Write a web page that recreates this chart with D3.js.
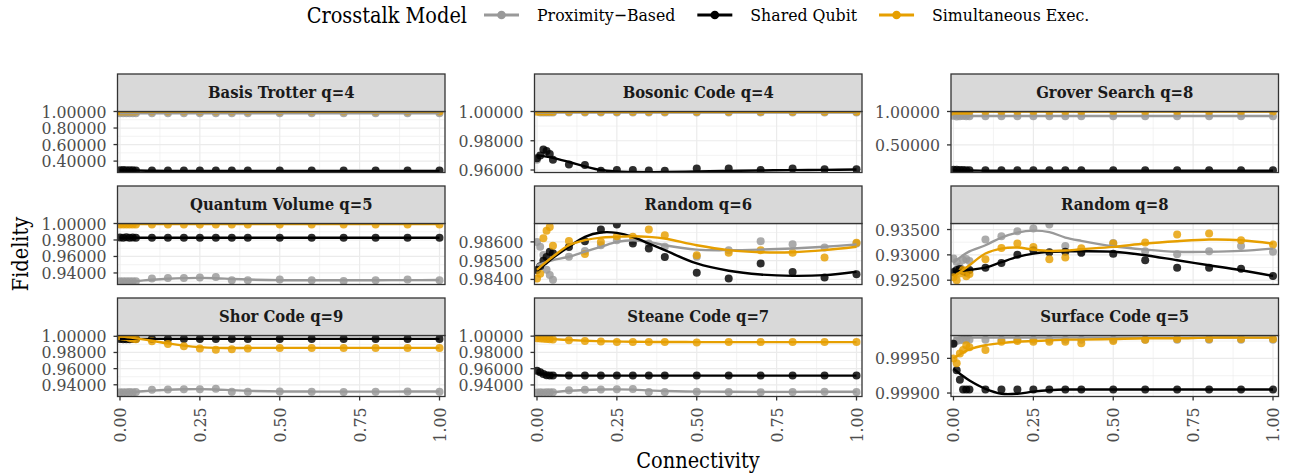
<!DOCTYPE html>
<html>
<head>
<meta charset="utf-8">
<script src="https://cdn.jsdelivr.net/npm/d3@7"></script>
<style>
  html, body { margin: 0; padding: 0; background: #ffffff; }
  svg { display: block; font-family: "DejaVu Serif Condensed", "DejaVu Serif", serif; font-stretch: condensed; }
</style>
</head>
<body>
<svg id="chart" width="1300" height="475"></svg>
<script>
// ---- Crosstalk models ----
const models = ["Proximity\u2212Based", "Shared Qubit", "Simultaneous Exec."];
const modelColors = ["#999999", "#000000", "#E69F00"];

// ---- Connectivity values of the measured runs, and of the fitted curves ----
const connectivity = [0, 0.01, 0.02, 0.03, 0.04, 0.05, 0.1, 0.15, 0.2, 0.25, 0.3, 0.35, 0.4, 0.5, 0.6, 0.7, 0.8, 0.9, 1.0];
const fitGrid = [0, 0.025, 0.05, 0.1, 0.15, 0.2, 0.25, 0.3, 0.35, 0.4, 0.5, 0.6, 0.7, 0.8, 0.9, 1.0];

const xTicks = [0, 0.25, 0.5, 0.75, 1.0];

// ---- Benchmarks ----
const panelTitles = [
  "Basis Trotter q=4", "Bosonic Code q=4", "Grover Search q=8",
  "Quantum Volume q=5", "Random q=6", "Random q=8",
  "Shor Code q=9", "Steane Code q=7", "Surface Code q=5"
];

const panelYLimits = [
  [0.262, 1.0], [0.9583, 1.0], [0.087, 1.0],
  [0.926, 1.0], [0.98373, 0.98698], [0.92415, 0.93619],
  [0.9255, 1.001], [0.9258, 1.0008], [0.99895, 0.99983]
];

const panelYTicks = [
  [0.4, 0.6, 0.8, 1.0], [0.96, 0.98, 1.0], [0.5, 1.0],
  [0.94, 0.96, 0.98, 1.0], [0.984, 0.985, 0.986], [0.925, 0.930, 0.935],
  [0.94, 0.96, 0.98, 1.0], [0.94, 0.96, 0.98, 1.0], [0.999, 0.9995]
];

// ---- Fidelity: Basis Trotter q=4 ----
const btProx  = [0.978, 0.978, 0.978, 0.978, 0.978, 0.978, 0.978, 0.978, 0.978, 0.978, 0.978, 0.978, 0.978, 0.978, 0.978, 0.978, 0.978, 0.978, 0.978];
const btShared = [0.290, 0.291, 0.289, 0.290, 0.288, 0.287, 0.285, 0.285, 0.285, 0.285, 0.285, 0.285, 0.285, 0.285, 0.285, 0.285, 0.285, 0.285, 0.285];
const btSimul = [0.999, 0.999, 0.999, 0.999, 0.999, 0.999, 0.999, 0.999, 0.999, 0.999, 0.999, 0.999, 0.999, 0.999, 0.999, 0.999, 0.999, 0.999, 0.999];
const btProxFit  = [0.978, 0.978, 0.978, 0.978, 0.978, 0.978, 0.978, 0.978, 0.978, 0.978, 0.978, 0.978, 0.978, 0.978, 0.978, 0.978];
const btSharedFit = [0.288, 0.287, 0.286, 0.283, 0.281, 0.280, 0.280, 0.280, 0.280, 0.280, 0.280, 0.280, 0.280, 0.280, 0.280, 0.280];
const btSimulFit = [0.999, 0.999, 0.999, 0.999, 0.999, 0.999, 0.999, 0.999, 0.999, 0.999, 0.999, 0.999, 0.999, 0.999, 0.999, 0.999];

// ---- Fidelity: Bosonic Code q=4 ----
const bcProx  = [0.9670, 0.9993, 0.9993, 0.9993, 0.9993, 0.9993, 0.9993, 0.9993, 0.9993, 0.9993, 0.9993, 0.9993, 0.9993, 0.9993, 0.9993, 0.9993, 0.9993, 0.9993, 0.9993];
const bcShared = [0.968, 0.970, 0.974, 0.973, 0.971, 0.967, 0.9637, 0.9635, 0.9595, 0.9600, 0.9600, 0.9597, 0.9595, 0.9610, 0.9610, 0.9600, 0.9610, 0.9605, 0.9605];
const bcSimul = [0.9998, 0.9998, 0.9998, 0.9998, 0.9998, 0.9998, 0.9998, 0.9998, 0.9998, 0.9998, 0.9998, 0.9998, 0.9998, 0.9998, 0.9998, 0.9998, 0.9998, 0.9998, 0.9998];
const bcProxFit  = [0.9993, 0.9993, 0.9993, 0.9993, 0.9993, 0.9993, 0.9993, 0.9993, 0.9993, 0.9993, 0.9993, 0.9993, 0.9993, 0.9993, 0.9993, 0.9993];
const bcSharedFit = [0.9700, 0.9693, 0.9683, 0.9655, 0.9625, 0.9600, 0.9590, 0.9586, 0.9585, 0.9586, 0.9590, 0.9594, 0.9597, 0.9599, 0.9601, 0.9603];
const bcSimulFit = [0.9998, 0.9998, 0.9998, 0.9998, 0.9998, 0.9998, 0.9998, 0.9998, 0.9998, 0.9998, 0.9998, 0.9998, 0.9998, 0.9998, 0.9998, 0.9998];

// ---- Fidelity: Grover Search q=8 ----
const gsProx  = [0.935, 0.925, 0.930, 0.932, 0.928, 0.930, 0.930, 0.930, 0.930, 0.930, 0.930, 0.930, 0.930, 0.930, 0.930, 0.930, 0.930, 0.930, 0.930];
const gsShared = [0.130, 0.128, 0.125, 0.124, 0.122, 0.120, 0.120, 0.120, 0.120, 0.120, 0.120, 0.120, 0.120, 0.120, 0.120, 0.120, 0.120, 0.120, 0.120];
const gsSimul = [0.999, 0.999, 0.999, 0.999, 0.999, 0.999, 0.999, 0.999, 0.999, 0.999, 0.999, 0.999, 0.999, 0.999, 0.999, 0.999, 0.999, 0.999, 0.999];
const gsProxFit  = [0.933, 0.933, 0.933, 0.933, 0.933, 0.933, 0.933, 0.933, 0.933, 0.933, 0.933, 0.933, 0.933, 0.933, 0.933, 0.933];
const gsSharedFit = [0.120, 0.118, 0.116, 0.114, 0.113, 0.113, 0.113, 0.113, 0.113, 0.113, 0.113, 0.113, 0.113, 0.113, 0.113, 0.113];
const gsSimulFit = [0.999, 0.999, 0.999, 0.999, 0.999, 0.999, 0.999, 0.999, 0.999, 0.999, 0.999, 0.999, 0.999, 0.999, 0.999, 0.999];

// ---- Fidelity: Quantum Volume q=5 ----
const qvProx  = [0.9299, 0.9299, 0.9298, 0.9300, 0.9299, 0.9300, 0.9332, 0.9340, 0.9340, 0.9345, 0.9352, 0.9312, 0.9312, 0.9320, 0.9312, 0.9303, 0.9312, 0.9320, 0.9312];
const qvShared = [0.9830, 0.9826, 0.9832, 0.9828, 0.9830, 0.9828, 0.9828, 0.9828, 0.9828, 0.9828, 0.9828, 0.9828, 0.9828, 0.9828, 0.9828, 0.9828, 0.9828, 0.9828, 0.9828];
const qvSimul = [0.9988, 0.9988, 0.9988, 0.9988, 0.9988, 0.9988, 0.9988, 0.9988, 0.9988, 0.9988, 0.9988, 0.9988, 0.9988, 0.9988, 0.9988, 0.9988, 0.9988, 0.9988, 0.9988];
const qvProxFit  = [0.9295, 0.9297, 0.9302, 0.9318, 0.9330, 0.9337, 0.9340, 0.9336, 0.9327, 0.9320, 0.9313, 0.9311, 0.9311, 0.9312, 0.9313, 0.9314];
const qvSharedFit = [0.9828, 0.9828, 0.9828, 0.9828, 0.9828, 0.9828, 0.9828, 0.9828, 0.9828, 0.9828, 0.9828, 0.9828, 0.9828, 0.9828, 0.9828, 0.9828];
const qvSimulFit = [0.9992, 0.9992, 0.9992, 0.9992, 0.9992, 0.9992, 0.9992, 0.9992, 0.9992, 0.9992, 0.9992, 0.9992, 0.9992, 0.9992, 0.9992, 0.9992];

// ---- Fidelity: Random q=6 ----
const r6Prox  = [0.98600, 0.98574, 0.98530, 0.98451, 0.98424, 0.98398, 0.98521, 0.98552, 0.98582, 0.98609, 0.98605, 0.98591, 0.98574, 0.98521, 0.98556, 0.98604, 0.98588, 0.98570, 0.98591];
const r6Shared = [0.98450, 0.98470, 0.98500, 0.98520, 0.98547, 0.98540, 0.98573, 0.98604, 0.98666, 0.98693, 0.98591, 0.98565, 0.98520, 0.98435, 0.98405, 0.98485, 0.98440, 0.98410, 0.98427];
const r6Simul = [0.98405, 0.98430, 0.98620, 0.98660, 0.98680, 0.98580, 0.98605, 0.98535, 0.98600, 0.98630, 0.98627, 0.98666, 0.98636, 0.98529, 0.98542, 0.98556, 0.98542, 0.98517, 0.98595];
const r6ProxFit  = [0.98476, 0.98490, 0.98503, 0.98521, 0.98548, 0.98574, 0.98600, 0.98609, 0.98600, 0.98582, 0.98559, 0.98556, 0.98559, 0.98565, 0.98574, 0.98586];
const r6SharedFit = [0.98446, 0.98480, 0.98515, 0.98574, 0.98627, 0.98650, 0.98648, 0.98627, 0.98591, 0.98556, 0.98485, 0.98446, 0.98426, 0.98419, 0.98423, 0.98441];
const r6SimulFit = [0.98451, 0.98488, 0.98522, 0.98582, 0.98609, 0.98623, 0.98627, 0.98630, 0.98627, 0.98618, 0.98582, 0.98556, 0.98545, 0.98545, 0.98556, 0.98574];

// ---- Fidelity: Random q=8 ----
const r8Prox  = [0.92926, 0.92860, 0.92762, 0.92900, 0.92920, 0.92880, 0.93302, 0.93368, 0.93466, 0.93519, 0.93598, 0.93177, 0.93058, 0.93236, 0.93071, 0.93012, 0.93071, 0.93177, 0.93060];
const r8Shared = [0.92660, 0.92700, 0.92720, 0.92680, 0.92650, 0.92700, 0.92748, 0.92841, 0.93000, 0.93091, 0.93050, 0.93060, 0.93040, 0.93020, 0.92893, 0.92748, 0.92748, 0.92728, 0.92584];
const r8Simul = [0.92560, 0.92500, 0.92630, 0.92700, 0.92580, 0.92620, 0.92913, 0.93137, 0.93223, 0.93157, 0.92913, 0.92946, 0.93131, 0.93223, 0.93242, 0.93400, 0.93420, 0.93289, 0.93203];
const r8ProxFit  = [0.92850, 0.92970, 0.93070, 0.93190, 0.93342, 0.93440, 0.93479, 0.93450, 0.93342, 0.93276, 0.93170, 0.93104, 0.93060, 0.93060, 0.93078, 0.93124];
const r8SharedFit = [0.92663, 0.92685, 0.92705, 0.92748, 0.92855, 0.92959, 0.93025, 0.93060, 0.93068, 0.93070, 0.93060, 0.92993, 0.92893, 0.92795, 0.92696, 0.92584];
const r8SimulFit = [0.92564, 0.92680, 0.92795, 0.93026, 0.93124, 0.93144, 0.93104, 0.93078, 0.93085, 0.93111, 0.93157, 0.93223, 0.93269, 0.93302, 0.93289, 0.93223];

// ---- Fidelity: Shor Code q=9 ----
const shProx  = [0.9309, 0.9309, 0.9308, 0.9310, 0.9309, 0.9310, 0.9338, 0.9342, 0.9344, 0.9346, 0.9350, 0.9313, 0.9313, 0.9317, 0.9313, 0.9311, 0.9315, 0.9317, 0.9313];
const shShared = [0.9968, 0.9965, 0.9963, 0.9965, 0.9966, 0.9967, 0.9968, 0.9968, 0.9968, 0.9968, 0.9968, 0.9968, 0.9968, 0.9968, 0.9968, 0.9968, 0.9968, 0.9968, 0.9968];
const shSimul = [1.0000, 0.9995, 0.9990, 0.9980, 0.9970, 0.9965, 0.9938, 0.9905, 0.9876, 0.9850, 0.9835, 0.9840, 0.9850, 0.9855, 0.9855, 0.9855, 0.9855, 0.9855, 0.9855];
const shProxFit  = [0.9305, 0.9307, 0.9312, 0.9328, 0.9338, 0.9344, 0.9346, 0.9342, 0.9333, 0.9325, 0.9318, 0.9316, 0.9315, 0.9315, 0.9316, 0.9316];
const shSharedFit = [0.9968, 0.9968, 0.9968, 0.9968, 0.9968, 0.9968, 0.9968, 0.9968, 0.9968, 0.9968, 0.9968, 0.9968, 0.9968, 0.9968, 0.9968, 0.9968];
const shSimulFit = [1.0000, 0.9988, 0.9975, 0.9945, 0.9912, 0.9885, 0.9866, 0.9857, 0.9855, 0.9856, 0.9857, 0.9857, 0.9857, 0.9857, 0.9857, 0.9857];

// ---- Fidelity: Steane Code q=7 ----
const stProx  = [0.9308, 0.9309, 0.9308, 0.9310, 0.9309, 0.9310, 0.9336, 0.9342, 0.9344, 0.9347, 0.9350, 0.9313, 0.9313, 0.9317, 0.9312, 0.9311, 0.9314, 0.9317, 0.9312];
const stShared = [0.9576, 0.9555, 0.9535, 0.9520, 0.9515, 0.9515, 0.9515, 0.9515, 0.9515, 0.9515, 0.9515, 0.9515, 0.9515, 0.9515, 0.9515, 0.9515, 0.9515, 0.9515, 0.9515];
const stSimul = [0.9975, 0.9970, 0.9968, 0.9965, 0.9962, 0.9960, 0.9950, 0.9940, 0.9935, 0.9927, 0.9927, 0.9927, 0.9927, 0.9923, 0.9927, 0.9927, 0.9927, 0.9927, 0.9927];
const stProxFit  = [0.9305, 0.9307, 0.9312, 0.9328, 0.9338, 0.9344, 0.9346, 0.9342, 0.9333, 0.9325, 0.9318, 0.9316, 0.9315, 0.9315, 0.9316, 0.9316];
const stSharedFit = [0.9545, 0.9530, 0.9520, 0.9515, 0.9515, 0.9515, 0.9515, 0.9515, 0.9515, 0.9515, 0.9515, 0.9515, 0.9515, 0.9515, 0.9515, 0.9515];
const stSimulFit = [0.9972, 0.9968, 0.9963, 0.9952, 0.9944, 0.9938, 0.9934, 0.9931, 0.9929, 0.9928, 0.9927, 0.9927, 0.9927, 0.9927, 0.9927, 0.9927];

// ---- Fidelity: Surface Code q=5 ----
const sfProx  = [0.99972, 0.99975, 0.99976, 0.99977, 0.99977, 0.99977, 0.99977, 0.99977, 0.99977, 0.99977, 0.99977, 0.99977, 0.99977, 0.99977, 0.99977, 0.99977, 0.99977, 0.99977, 0.99977];
const sfShared = [0.99971, 0.99933, 0.99919, 0.99905, 0.99905, 0.99905, 0.99905, 0.99905, 0.99905, 0.99905, 0.99905, 0.99905, 0.99905, 0.99905, 0.99905, 0.99905, 0.99905, 0.99905, 0.99905];
const sfSimul = [0.99950, 0.99943, 0.99957, 0.99962, 0.99969, 0.99966, 0.99962, 0.99974, 0.99975, 0.99974, 0.99974, 0.99974, 0.99972, 0.99975, 0.99977, 0.99978, 0.99978, 0.99978, 0.99978];
const sfProxFit  = [0.99980, 0.99980, 0.99980, 0.99980, 0.99980, 0.99980, 0.99980, 0.99980, 0.99980, 0.99980, 0.99980, 0.99980, 0.99980, 0.99980, 0.99980, 0.99980];
const sfSharedFit = [0.99935, 0.99926, 0.99918, 0.99906, 0.99899, 0.99899, 0.99902, 0.99904, 0.99905, 0.99905, 0.99905, 0.99905, 0.99905, 0.99905, 0.99905, 0.99905];
const sfSimulFit = [0.99950, 0.99957, 0.99963, 0.99969, 0.99972, 0.99974, 0.99975, 0.99976, 0.99977, 0.99977, 0.99978, 0.99979, 0.99979, 0.99980, 0.99980, 0.99980];

const panelPoints = [
  [btProx, btShared, btSimul], [bcProx, bcShared, bcSimul], [gsProx, gsShared, gsSimul],
  [qvProx, qvShared, qvSimul], [r6Prox, r6Shared, r6Simul], [r8Prox, r8Shared, r8Simul],
  [shProx, shShared, shSimul], [stProx, stShared, stSimul], [sfProx, sfShared, sfSimul]
];
const panelFits = [
  [btProxFit, btSharedFit, btSimulFit], [bcProxFit, bcSharedFit, bcSimulFit], [gsProxFit, gsSharedFit, gsSimulFit],
  [qvProxFit, qvSharedFit, qvSimulFit], [r6ProxFit, r6SharedFit, r6SimulFit], [r8ProxFit, r8SharedFit, r8SimulFit],
  [shProxFit, shSharedFit, shSimulFit], [stProxFit, stSharedFit, stSimulFit], [sfProxFit, sfSharedFit, sfSimulFit]
];

// ---- Layout ----
const svg = d3.select("#chart");
const colLeft = [117.5, 534.5, 951];
const panelW = 327.5;
const rowTop = [74, 186, 298];
const stripH = 37.5;
const panelH = 61;
const frame = "#333333";
const gridColor = "#ebebeb";
const tickFont = 17.5;

const fmt = d3.format(".5f");
const xFmt = d3.format(".2f");

const line = d3.line().curve(d3.curveCatmullRom.alpha(0.5));

panelTitles.forEach((title, i) => {
  const col = i % 3, row = Math.floor(i / 3);
  const left = colLeft[col];
  const sTop = rowTop[row];
  const pTop = sTop + stripH;
  const pBottom = pTop + panelH;

  const x = d3.scaleLinear().domain([-0.0078, 1.0172]).range([left, left + panelW]);
  const y = d3.scaleLinear().domain(panelYLimits[i]).range([pBottom, pTop]);

  const g = svg.append("g");
  const clipId = "clip" + i;
  svg.append("clipPath").attr("id", clipId)
    .append("rect").attr("x", left).attr("y", pTop).attr("width", panelW).attr("height", panelH);

  // panel background
  g.append("rect").attr("x", left).attr("y", pTop).attr("width", panelW).attr("height", panelH).attr("fill", "#ffffff");

  const grid = g.append("g").attr("clip-path", `url(#${clipId})`);
  // minor grid
  const yt = panelYTicks[i];
  const step = yt.length > 1 ? yt[1] - yt[0] : 0.1;
  const dom = panelYLimits[i];
  const yMinor = [];
  for (let k = -1; k < yt.length; k++) {
    const v = yt[0] + (k + 0.5) * step;
    if (v >= dom[0] && v <= dom[1]) yMinor.push(v);
  }
  const xMinor = [0.125, 0.375, 0.625, 0.875];
  grid.selectAll(".ymin").data(yMinor).join("line")
    .attr("x1", left).attr("x2", left + panelW)
    .attr("y1", d => y(d)).attr("y2", d => y(d))
    .attr("stroke", gridColor).attr("stroke-width", 0.6);
  grid.selectAll(".xmin").data(xMinor).join("line")
    .attr("x1", d => x(d)).attr("x2", d => x(d))
    .attr("y1", pTop).attr("y2", pBottom)
    .attr("stroke", gridColor).attr("stroke-width", 0.6);
  // major grid
  grid.selectAll(".ymaj").data(yt).join("line")
    .attr("x1", left).attr("x2", left + panelW)
    .attr("y1", d => y(d)).attr("y2", d => y(d))
    .attr("stroke", gridColor).attr("stroke-width", 1.2);
  grid.selectAll(".xmaj").data(xTicks).join("line")
    .attr("x1", d => x(d)).attr("x2", d => x(d))
    .attr("y1", pTop).attr("y2", pBottom)
    .attr("stroke", gridColor).attr("stroke-width", 1.2);

  // points
  const marks = g.append("g").attr("clip-path", `url(#${clipId})`);
  panelPoints[i].forEach((vals, m) => {
    marks.append("g").selectAll("circle")
      .data(vals.map((v, k) => [connectivity[k], v]))
      .join("circle")
      .attr("cx", d => x(d[0])).attr("cy", d => y(d[1]))
      .attr("r", 4)
      .attr("fill", modelColors[m])
      .attr("fill-opacity", 0.82);
  });
  // fitted curves
  panelFits[i].forEach((vals, m) => {
    marks.append("path")
      .datum(vals.map((v, k) => [x(fitGrid[k]), y(v)]))
      .attr("d", line)
      .attr("fill", "none")
      .attr("stroke", modelColors[m])
      .attr("stroke-width", 2.4)
      .attr("stroke-linejoin", "round");
  });

  // panel border
  g.append("rect").attr("x", left).attr("y", pTop).attr("width", panelW).attr("height", panelH)
    .attr("fill", "none").attr("stroke", frame).attr("stroke-width", 1.3);

  // strip
  g.append("rect").attr("x", left).attr("y", sTop).attr("width", panelW).attr("height", stripH)
    .attr("fill", "#d9d9d9").attr("stroke", frame).attr("stroke-width", 1.3);
  g.append("text")
    .attr("x", left + panelW / 2).attr("y", sTop + stripH / 2)
    .attr("text-anchor", "middle").attr("dominant-baseline", "central")
    .attr("font-size", 16.5).attr("font-weight", "bold").attr("fill", "#1a1a1a")
    .text(title);

  // y axis
  const ya = g.append("g");
  ya.selectAll("line").data(yt).join("line")
    .attr("x1", left - 4).attr("x2", left)
    .attr("y1", d => y(d)).attr("y2", d => y(d))
    .attr("stroke", frame).attr("stroke-width", 1.3);
  ya.selectAll("text").data(yt).join("text")
    .attr("x", left - 11).attr("y", d => y(d))
    .attr("text-anchor", "end").attr("dominant-baseline", "central")
    .attr("font-size", tickFont).attr("fill", "#4d4d4d")
    .text(d => fmt(d));

  // x axis on the bottom row only
  if (row === 2) {
    const xa = g.append("g");
    xa.selectAll("line").data(xTicks).join("line")
      .attr("x1", d => x(d)).attr("x2", d => x(d))
      .attr("y1", pBottom).attr("y2", pBottom + 4)
      .attr("stroke", frame).attr("stroke-width", 1.3);
    xa.selectAll("text").data(xTicks).join("text")
      .attr("transform", d => `translate(${x(d)},${pBottom + 11}) rotate(-90)`)
      .attr("text-anchor", "end").attr("dominant-baseline", "central")
      .attr("font-size", tickFont).attr("fill", "#4d4d4d")
      .text(d => xFmt(d));
  }
});

// axis titles
const plotCenterX = (colLeft[0] + colLeft[2] + panelW) / 2;
svg.append("text")
  .attr("x", plotCenterX).attr("y", 468)
  .attr("text-anchor", "middle")
  .attr("font-size", 21.5).attr("fill", "#000")
  .text("Connectivity");
const yTitleCenter = (rowTop[0] + stripH + rowTop[2] + stripH + panelH) / 2;
svg.append("text")
  .attr("transform", `translate(28,${yTitleCenter}) rotate(-90)`)
  .attr("text-anchor", "middle")
  .attr("font-size", 21.5).attr("fill", "#000")
  .text("Fidelity");

// legend, laid out left to right and centred over the panels
const legend = svg.append("g");
const legY = 15;
const title = legend.append("text")
  .attr("x", 0).attr("y", legY).attr("dominant-baseline", "central")
  .attr("font-size", 21.5).attr("fill", "#000").text("Crosstalk Model");
let cursor = title.node().getComputedTextLength() + 17;
const keyW = 35;
models.forEach((name, m) => {
  legend.append("line")
    .attr("x1", cursor).attr("x2", cursor + keyW)
    .attr("y1", legY).attr("y2", legY)
    .attr("stroke", modelColors[m]).attr("stroke-width", 3.2);
  legend.append("circle")
    .attr("cx", cursor + keyW / 2).attr("cy", legY).attr("r", 4.3)
    .attr("fill", modelColors[m]);
  cursor += keyW + 18;
  const t = legend.append("text")
    .attr("x", cursor).attr("y", legY).attr("dominant-baseline", "central")
    .attr("font-size", 17.5).attr("fill", "#000").text(name);
  cursor += t.node().getComputedTextLength() + (m < models.length - 1 ? 22 : 0);
});
legend.attr("transform", `translate(${plotCenterX - cursor / 2},0)`);
</script>
</body>
</html>
